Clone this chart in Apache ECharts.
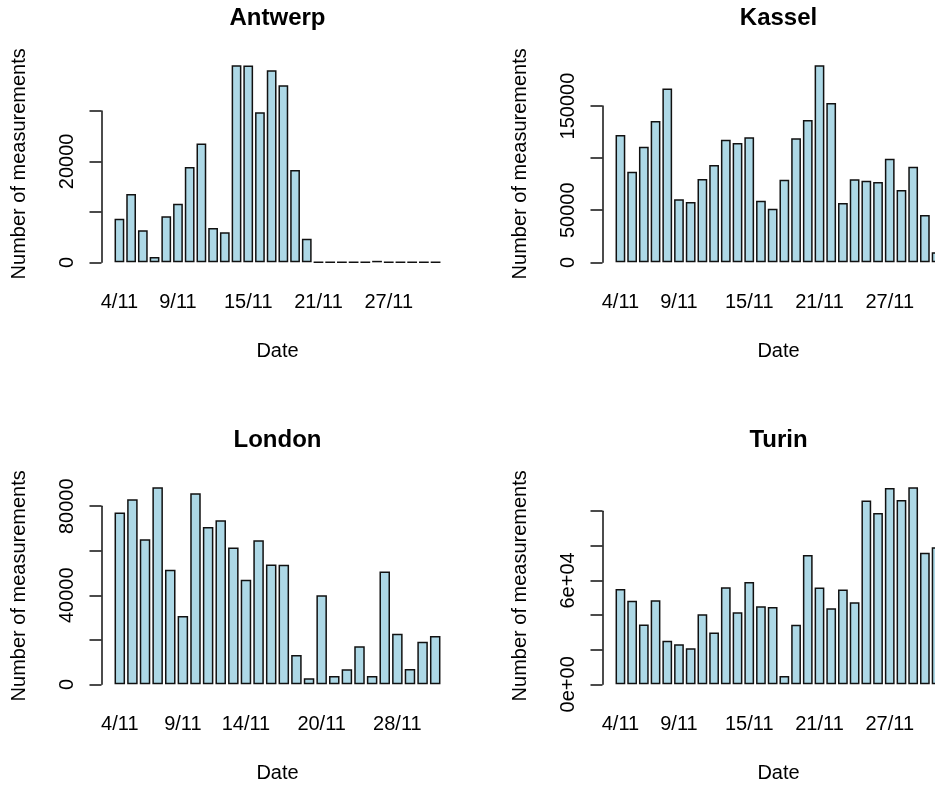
<!DOCTYPE html>
<html>
<head>
<meta charset="utf-8">
<script src="https://cdn.jsdelivr.net/npm/echarts@6/dist/echarts.min.js"></script>
<style>
  html, body { margin: 0; padding: 0; background: #fff; overflow: hidden; }
  #chart { width: 935px; height: 785px; }
</style>
</head>
<body>
<div id="chart"></div>
<script>
// Daily number of measurements per city (day/month)
const novemberDates = ['4/11','5/11','6/11','7/11','8/11','9/11','10/11','11/11','12/11','13/11',
  '14/11','15/11','16/11','17/11','18/11','19/11','20/11','21/11','22/11','23/11','24/11','25/11',
  '26/11','27/11','28/11','29/11','30/11','1/12'];
const londonDates = ['4/11','5/11','6/11','7/11','8/11','9/11','10/11','11/11','12/11','13/11',
  '14/11','15/11','16/11','17/11','18/11','19/11','20/11','21/11','22/11','24/11','25/11','27/11',
  '28/11','29/11','30/11','1/12'];

const antwerpCounts = [8660, 13550, 6350, 1060, 9120, 11630, 18900, 23530, 6810, 5950, 39060, 39000,
  29740, 38070, 35100, 18310, 4690, 0, 0, 0, 0, 0, 300, 0, 0, 0, 0, 0];
const kasselCounts = [122200, 87000, 111000, 135600, 166700, 60500, 57900, 80000, 93400, 117700,
  114500, 120000, 59200, 51500, 79300, 119000, 136600, 189100, 152900, 56900, 79700, 78400, 77100,
  99500, 69400, 91800, 45400, 9600];
const londonCounts = [77160, 83140, 65200, 88520, 51440, 30650, 85830, 70730, 73720, 61460, 46950,
  64750, 53830, 53680, 13160, 2690, 40070, 3740, 6730, 17050, 3740, 50690, 22730, 6880, 19140, 21680];
const turinCounts = [55100, 48200, 34500, 48600, 25100, 23200, 20900, 40500, 29900, 56000, 41600,
  59100, 45100, 44700, 4800, 34400, 74700, 55900, 44000, 54700, 47400, 106100, 99000, 113400, 106500,
  113800, 76000, 79100];

// y-axis ticks and the labels printed at them ('' = tick without label)
const antwerpYTicks = [0, 10000, 20000, 30000];
const antwerpYLabels = ['0', '', '20000', ''];
const kasselYTicks = [0, 50000, 100000, 150000];
const kasselYLabels = ['0', '50000', '', '150000'];
const londonYTicks = [0, 20000, 40000, 60000, 80000];
const londonYLabels = ['0', '', '40000', '', '80000'];
const turinYTicks = [0, 20000, 40000, 60000, 80000, 100000];
const turinYLabels = ['0e+00', '', '', '6e+04', '', ''];

// dates printed under the bars
const antwerpXLabels = ['4/11', '9/11', '15/11', '21/11', '27/11'];
const kasselXLabels = ['4/11', '9/11', '15/11', '21/11', '27/11'];
const londonXLabels = ['4/11', '9/11', '14/11', '20/11', '28/11'];
const turinXLabels = ['4/11', '9/11', '15/11', '21/11', '27/11'];

const panels = [
  { title: 'Antwerp', col: 0, row: 0, dates: novemberDates, counts: antwerpCounts, ticks: antwerpYTicks, tickLabels: antwerpYLabels, xLabels: antwerpXLabels },
  { title: 'Kassel',  col: 1, row: 0, dates: novemberDates, counts: kasselCounts,  ticks: kasselYTicks,  tickLabels: kasselYLabels,  xLabels: kasselXLabels },
  { title: 'London',  col: 0, row: 1, dates: londonDates,   counts: londonCounts,  ticks: londonYTicks,  tickLabels: londonYLabels,  xLabels: londonXLabels },
  { title: 'Turin',   col: 1, row: 1, dates: novemberDates, counts: turinCounts,   ticks: turinYTicks,   tickLabels: turinYLabels,   xLabels: turinXLabels }
];

// Plot-region geometry of the 2x2 layout (pixels)
const PLOT_LEFT = [101.5, 602.5];
const PLOT_TOP = [57.4, 479.4];
const PLOT_W = 352;
const PLOT_H = 212.8;
const FONT = '"Liberation Sans", Arial, Helvetica, sans-serif';
const INK = '#111';

const grids = [], xAxes = [], yAxes = [], series = [], texts = [];

panels.forEach((p, i) => {
  const plotLeft = PLOT_LEFT[p.col];
  const plotTop = PLOT_TOP[p.row];
  const n = p.counts.length;
  // bars of width 1 separated by 0.2, region padded by 4% on each side
  const span = 1.2 * n - 0.2;
  const unit = PLOT_W / (1.08 * span);
  const bandLeft = plotLeft + 0.04 * span * unit - 0.1 * unit;
  const maxV = Math.max(...p.counts);
  const k = PLOT_H / (1.08 * maxV);
  const zeroY = plotTop + 1.04 * maxV * k;
  const topTick = p.ticks[p.ticks.length - 1];

  grids.push({
    left: bandLeft, top: zeroY - topTick * k,
    width: 1.2 * n * unit, height: topTick * k,
    containLabel: false, outerBoundsMode: 'none'
  });

  xAxes.push({
    gridIndex: i, type: 'category', data: p.dates, boundaryGap: true,
    axisLine: { show: false }, axisTick: { show: false }, splitLine: { show: false },
    axisLabel: {
      interval: (idx, val) => p.xLabels.includes(val),
      margin: 30, fontSize: 20, color: '#000', fontFamily: FONT
    },
    name: 'Date', nameLocation: 'middle', nameGap: 79,
    nameTextStyle: { fontSize: 20, color: '#000', fontFamily: FONT }
  });

  yAxes.push({
    gridIndex: i, type: 'value', min: 0, max: topTick,
    interval: p.ticks[1] - p.ticks[0],
    offset: bandLeft - plotLeft,
    axisLine: { show: true, lineStyle: { color: INK, width: 1.5 } },
    axisTick: { show: true, length: 12, lineStyle: { color: INK, width: 1.5 } },
    splitLine: { show: false },
    axisLabel: {
      rotate: 90, margin: 24, fontSize: 20, color: '#000', fontFamily: FONT,
      showMinLabel: true, showMaxLabel: true,
      formatter: (v) => p.tickLabels[p.ticks.indexOf(v)] || ''
    }
  });

  series.push({
    type: 'bar', xAxisIndex: i, yAxisIndex: i, data: p.counts,
    barWidth: (100 / 1.2) + '%', clip: false, silent: true,
    itemStyle: { color: '#ADD8E6', borderColor: INK, borderWidth: 1.5 }
  });

  texts.push({
    type: 'text', x: plotLeft + PLOT_W / 2, y: 18 + p.row * 422,
    style: {
      text: p.title, fill: '#000', fontSize: 24, fontWeight: 'bold', fontFamily: FONT,
      align: 'center', verticalAlign: 'middle', textAlign: 'center', textVerticalAlign: 'middle'
    }
  });
  texts.push({
    type: 'text', x: plotLeft - 82.5, y: plotTop + PLOT_H / 2, rotation: Math.PI / 2,
    style: {
      text: 'Number of measurements', fill: '#000', fontSize: 20, fontFamily: FONT,
      align: 'center', verticalAlign: 'middle', textAlign: 'center', textVerticalAlign: 'middle'
    }
  });
});

const chart = echarts.init(document.getElementById('chart'), null, { renderer: 'canvas' });
chart.setOption({
  animation: false,
  backgroundColor: '#fff',
  textStyle: { fontFamily: FONT },
  grid: grids,
  xAxis: xAxes,
  yAxis: yAxes,
  series: series,
  graphic: { elements: texts }
});
</script>
</body>
</html>
